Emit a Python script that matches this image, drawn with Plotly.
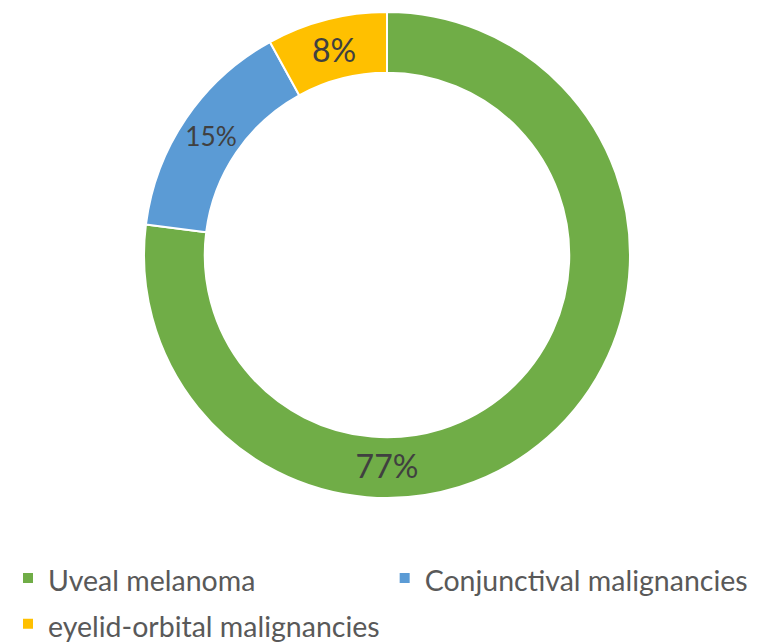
import plotly.graph_objects as go

categories = ["Uveal melanoma", "Conjunctival malignancies", "eyelid-orbital malignancies"]
values = [77, 15, 8]
colors = ["#70AD47", "#5B9BD5", "#FFC000"]

W, H = 757, 644
OFF = 8                      # page body margin
cx, cy, R = 387 - OFF, 255 - OFF, 243

legend_labels = ['<span style="font-size:28.5px">%s</span>' % c for c in categories]

fig = go.Figure(go.Pie(
    labels=legend_labels,
    values=values,
    sort=False,
    direction="clockwise",
    rotation=0,
    hole=0.75,
    marker=dict(colors=colors, line=dict(color="white", width=2)),
    texttemplate="%{percent:.0%}",
    textposition="inside",
    insidetextorientation="horizontal",
    textfont=dict(family="Lato", size=32, color="#404040"),
    hoverinfo="skip",
    domain=dict(x=[(cx - R) / W, (cx + R) / W], y=[(H - cy - R) / H, (H - cy + R) / H]),
))

fig.update_layout(
    width=W, height=H,
    margin=dict(l=0, r=0, t=0, b=0),
    paper_bgcolor="white",
    showlegend=True,
    legend=dict(
        orientation="h",
        x=0.0, xanchor="left",
        y=0.0, yanchor="bottom",
        font=dict(family="Lato", size=33, color="#595959"),
        traceorder="normal",
        itemwidth=30,
    ),
)

fig.write_html("out.html")
